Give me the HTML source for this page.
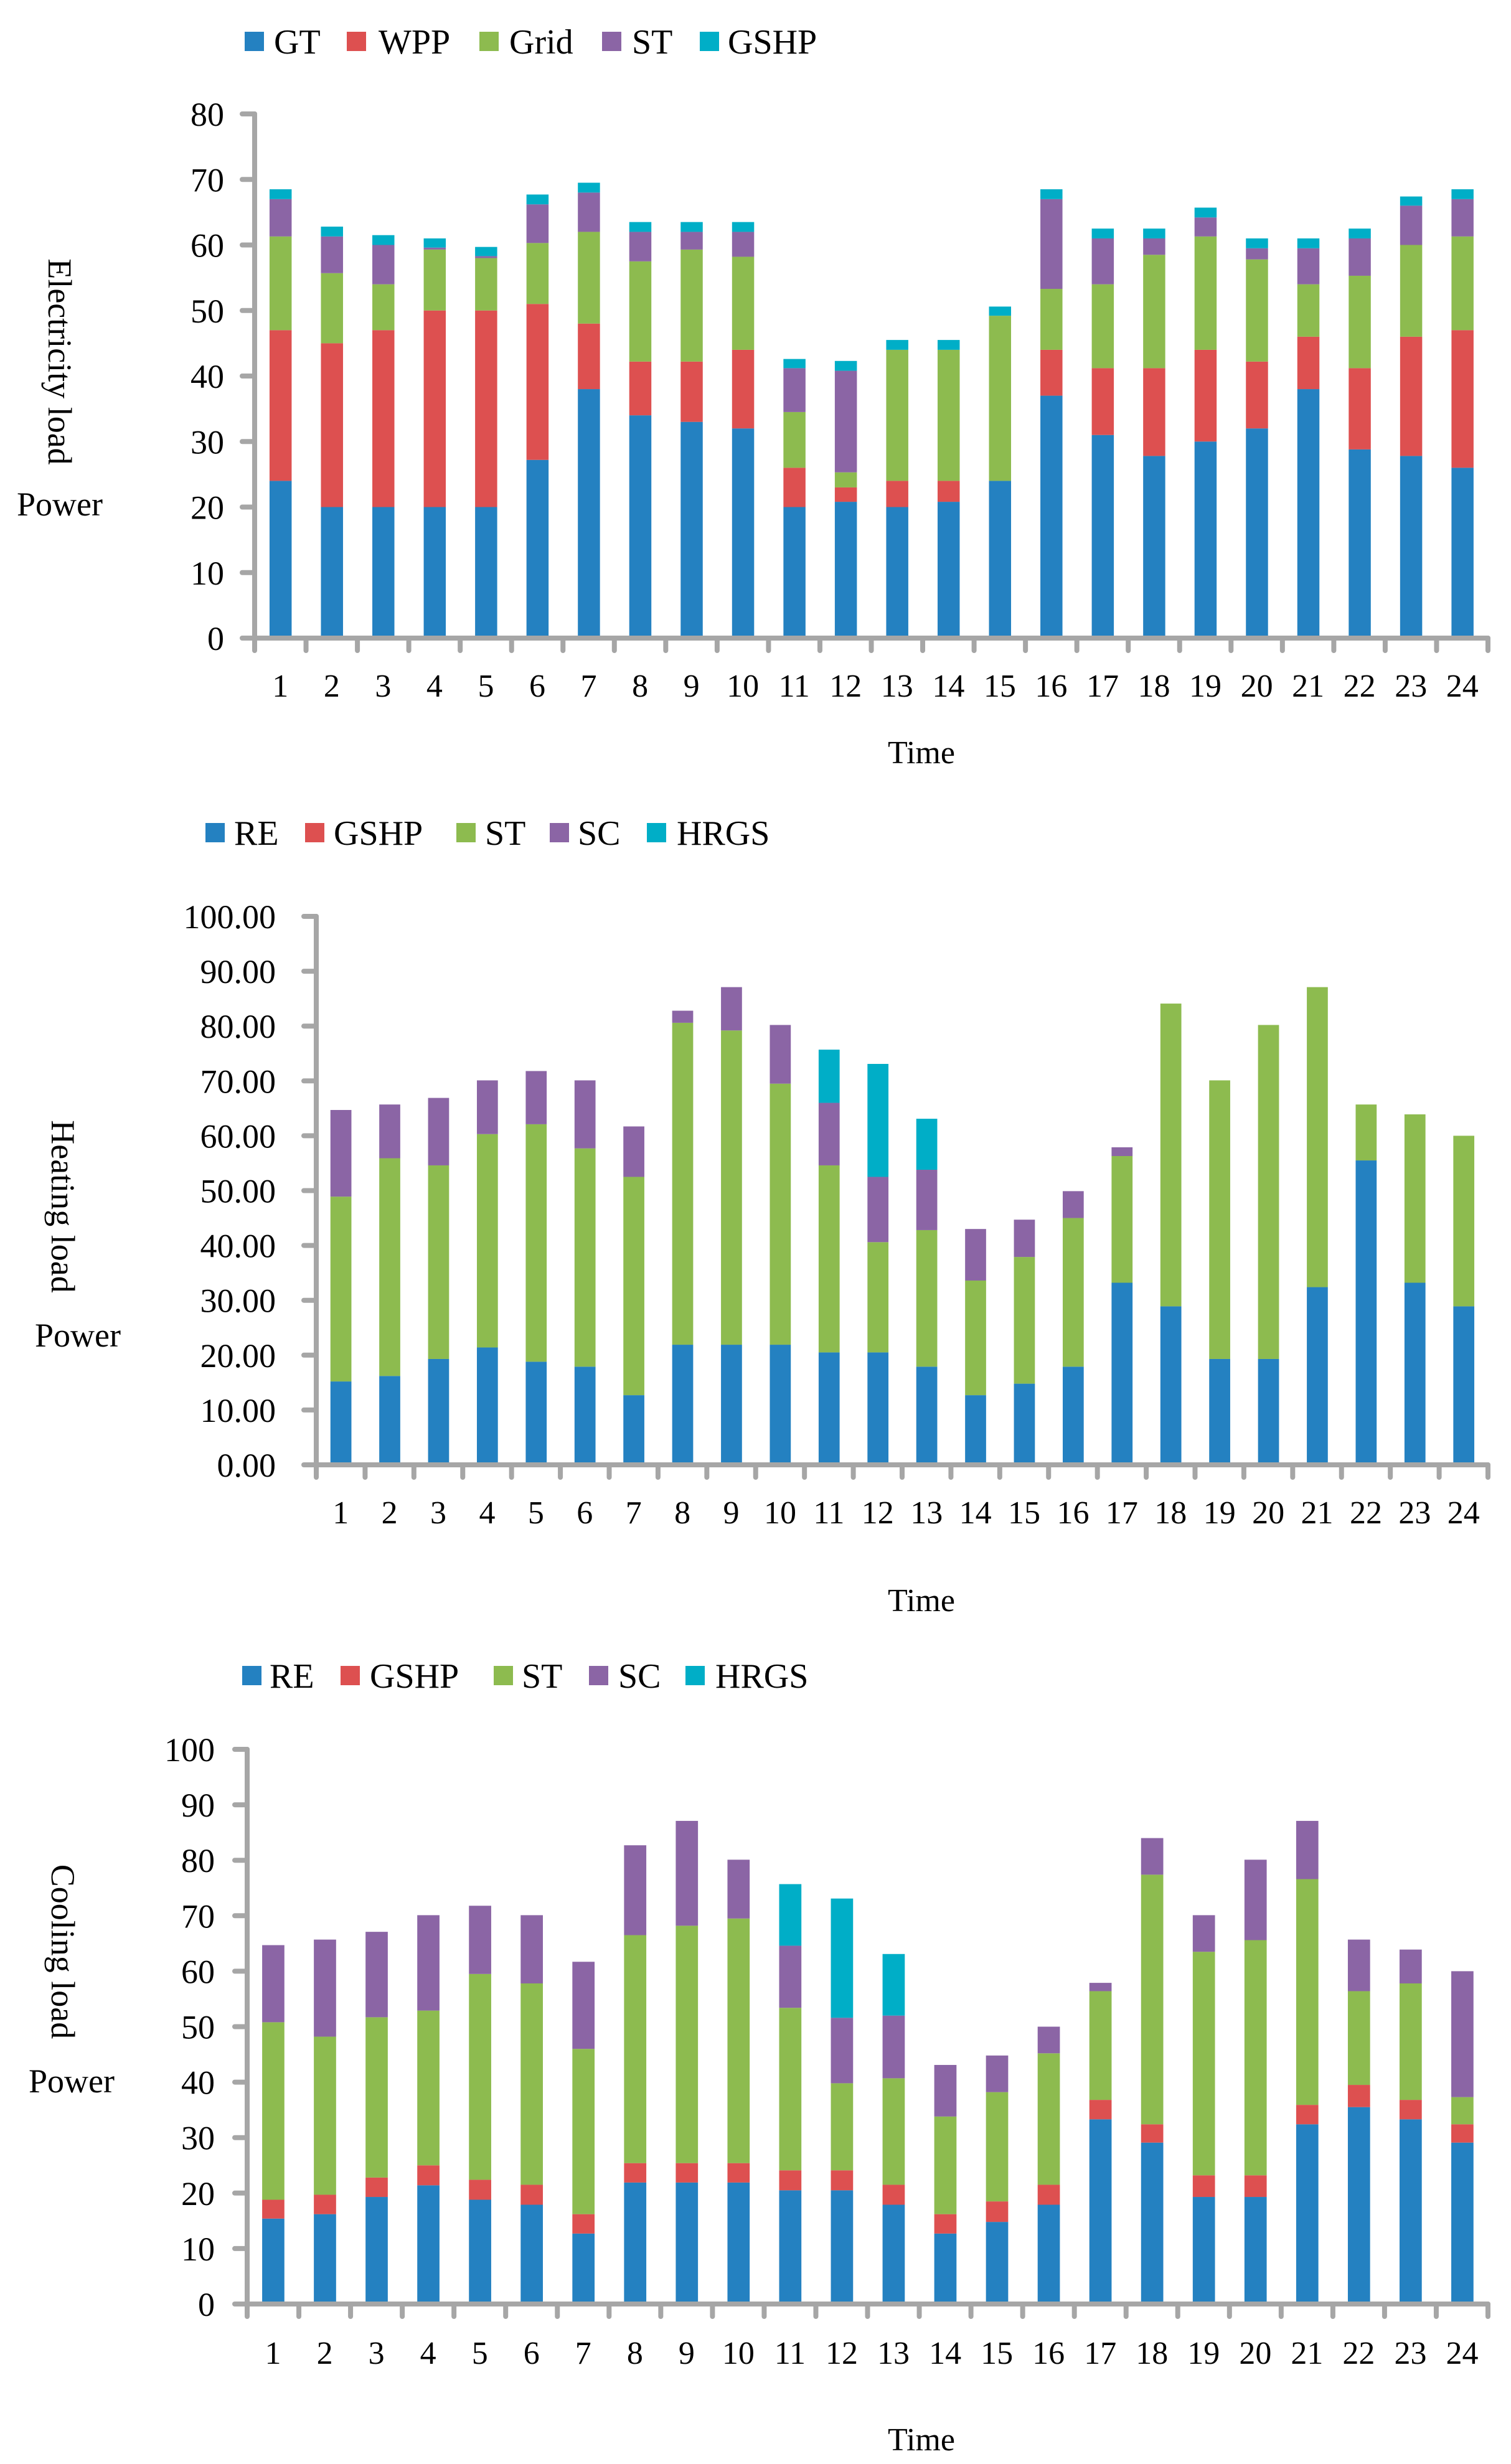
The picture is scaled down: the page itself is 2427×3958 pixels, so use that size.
<!DOCTYPE html>
<html><head><meta charset="utf-8"><style>
html,body{margin:0;padding:0;background:#fff;}
svg{display:block;font-family:"Liberation Serif",serif;}
</style></head><body>
<svg id="root" xmlns="http://www.w3.org/2000/svg" width="2427" height="3958" viewBox="0 0 2427 3958">
<rect x="0" y="0" width="2427" height="3958" fill="#fff"/>
</svg>
<script>
const hours = ["1","2","3","4","5","6","7","8","9","10","11","12","13","14","15","16","17","18","19","20","21","22","23","24"];
// Chart 1: electricity
const elecNames = ["GT","WPP","Grid","ST","GSHP"];
const elecGT   = [24,20,20,20,20,27.2,38,34,33,32,20,20.8,20,20.8,24,37,31,27.8,30,32,38,28.8,27.8,26];
const elecWPP  = [23,25,27,30,30,23.8,10,8.2,9.2,12,6,2.2,4,3.2,0,7,10.2,13.4,14,10.2,8,12.4,18.2,21];
const elecGrid = [14.3,10.7,7,9.3,8,9.3,14,15.3,17.1,14.2,8.5,2.3,20,20,25.2,9.3,12.8,17.3,17.3,15.6,8,14.1,14,14.3];
const elecST   = [5.7,5.6,6,0.3,0.3,5.9,6,4.5,2.7,3.8,6.7,15.5,0,0,0,13.7,7,2.5,2.9,1.7,5.5,5.7,6,5.7];
const elecGSHP = [1.5,1.5,1.5,1.4,1.4,1.5,1.5,1.5,1.5,1.5,1.4,1.5,1.5,1.5,1.4,1.5,1.5,1.5,1.5,1.5,1.5,1.5,1.4,1.5];
const elecTicks = ["0","10","20","30","40","50","60","70","80"];
// Chart 2: heating
const heatNames = ["RE","GSHP","ST","SC","HRGS"];
const heatRE   = [15.2,16.2,19.3,21.4,18.8,17.9,12.7,21.9,21.9,21.9,20.5,20.5,17.9,12.7,14.8,17.9,33.2,28.9,19.3,19.3,32.4,55.5,33.2,28.9];
const heatGSHP = [0,0,0,0,0,0,0,0,0,0,0,0,0,0,0,0,0,0,0,0,0,0,0,0];
const heatST   = [33.7,39.7,35.3,38.9,43.3,39.8,39.8,58.7,57.3,47.6,34.1,20.1,24.9,20.9,23.1,27.1,23.1,55.2,50.8,60.9,54.7,10.2,30.7,31.1];
const heatSC   = [15.8,9.8,12.3,9.8,9.7,12.4,9.2,2.2,7.9,10.7,11.4,11.9,11,9.4,6.8,4.9,1.6,0,0,0,0,0,0,0];
const heatHRGS = [0,0,0,0,0,0,0,0,0,0,9.7,20.6,9.3,0,0,0,0,0,0,0,0,0,0,0];
const heatTicks = ["0.00","10.00","20.00","30.00","40.00","50.00","60.00","70.00","80.00","90.00","100.00"];
// Chart 3: cooling
const coolNames = ["RE","GSHP","ST","SC","HRGS"];
const coolRE   = [15.4,16.2,19.3,21.4,18.8,17.9,12.7,21.9,21.9,21.9,20.5,20.5,17.9,12.7,14.8,17.9,33.3,29.1,19.3,19.3,32.4,35.5,33.3,29.1];
const coolGSHP = [3.4,3.5,3.5,3.6,3.6,3.6,3.5,3.5,3.5,3.5,3.6,3.6,3.6,3.5,3.7,3.6,3.5,3.3,3.9,3.9,3.5,4,3.5,3.3];
const coolST   = [32,28.5,28.9,27.9,37.1,36.3,29.8,41.1,42.8,44.1,29.3,15.7,19.2,17.6,19.7,23.7,19.6,45,40.3,42.4,40.7,16.9,21,4.9];
const coolSC   = [13.9,17.5,15.4,17.2,12.3,12.3,15.7,16.2,18.9,10.6,11.2,11.8,11.3,9.3,6.6,4.8,1.5,6.6,6.6,14.5,10.5,9.3,6.1,22.7];
const coolHRGS = [0,0,0,0,0,0,0,0,0,0,11.1,21.5,11.1,0,0,0,0,0,0,0,0,0,0,0];
const coolTicks = ["0","10","20","30","40","50","60","70","80","90","100"];

const colors = ["#2481C1","#DD5050","#8DBB4F","#8B65A5","#00AEC7"];
const NS = "http://www.w3.org/2000/svg";
const root = document.getElementById('root');
function mk(tag, attrs, parent){
  const e = document.createElementNS(NS, tag);
  for (const k in attrs) e.setAttribute(k, attrs[k]);
  (parent||root).appendChild(e);
  return e;
}
function chart(cfg){
  const g = mk('g', {});
  
  
  const n = hours.length;
  const band = (cfg.x1 - cfg.x0) / n;
  const xScale = i => cfg.x0 + band * i;
  const yScale = v => cfg.y0 - (v / cfg.max) * (cfg.y0 - cfg.yTop);
  for (let i = 0; i < n; i++){
    let acc = 0;
    for (let s = 0; s < cfg.series.length; s++){
      const v = cfg.series[s][i];
      if (v <= 0) continue;
      const yt = yScale(acc + v), yb = yScale(acc);
      const r = mk('rect', {x: xScale(i) + band*0.29, y: yt, width: band*0.43, height: yb - yt, fill: colors[s]}, g);
      
      
      acc += v;
    }
  }
  const ax = mk('g', {stroke:'#a6a6a6', 'stroke-width':8, 'stroke-linecap':'round', fill:'none'}, g);
  
  
  mk('line', {x1: cfg.x0, y1: cfg.yTop, x2: cfg.x0, y2: cfg.y0}, ax);
  mk('line', {x1: cfg.x0, y1: cfg.y0, x2: cfg.x1, y2: cfg.y0}, ax);
  const nt = cfg.ticks.length;
  for (let t = 0; t < nt; t++){
    const val = cfg.max * t / (nt - 1);
    const y = yScale(val);
    mk('line', {x1: cfg.x0 - 20, y1: y, x2: cfg.x0, y2: y}, ax);
    const tx = mk('text', {x: cfg.tickRight, y: y + 19, 'font-size': 54, 'text-anchor': 'end', fill: '#000'}, g);
    tx.textContent = cfg.ticks[t];
    
    
  }
  for (let i = 0; i <= n; i++){
    mk('line', {x1: xScale(i), y1: cfg.y0, x2: xScale(i), y2: cfg.y0 + 20}, ax);
  }
  for (let i = 0; i < n; i++){
    const tx = mk('text', {x: xScale(i) + band*0.5, y: cfg.xLabelY + 19, 'font-size': 52, 'text-anchor': 'middle', fill: '#000'}, g);
    tx.textContent = hours[i];
    
    
  }
  const tt = mk('text', {x: 1480, y: cfg.timeY + 18, 'font-size': 52, 'text-anchor': 'middle', fill: '#000'}, g);
  tt.textContent = 'Time';
  
  
  const yt = mk('text', {x: 0, y: 0, 'font-size': 54, 'text-anchor': 'middle', fill: '#000', transform: 'translate(' + (cfg.titleX - 18) + ',' + cfg.titleY + ') rotate(90)'}, g);
  yt.textContent = cfg.title;
  
  
  const pw = mk('text', {x: cfg.powerX, y: cfg.powerY + 18, 'font-size': 54, 'text-anchor': 'middle', fill: '#000'}, g);
  pw.textContent = 'Power';
  
  
  for (let s = 0; s < cfg.names.length; s++){
    const lg = mk('g', {}, g);
    
    
    mk('rect', {x: cfg.legSq[s], y: cfg.legY - 15, width: 31, height: 31, fill: colors[s]}, lg);
    const lt = mk('text', {x: cfg.legTx[s], y: cfg.legY + 20, 'font-size': 56, fill: '#000'}, lg);
    lt.textContent = cfg.names[s];
  }
}
chart({name:'electricity-load-chart', x0:409, x1:2390, y0:1025, yTop:183, max:80, ticks:elecTicks, tickRight:360,
  series:[elecGT,elecWPP,elecGrid,elecST,elecGSHP], names:elecNames, xLabelY:1100, timeY:1208,
  title:'Electricity load', titleX:96, titleY:581, powerX:96, powerY:810,
  legY:66, legSq:[393,557,770,967,1124], legTx:[440,608,818,1015,1169]});
chart({name:'heating-load-chart', x0:508, x1:2390, y0:2353, yTop:1472, max:100, ticks:heatTicks, tickRight:443,
  series:[heatRE,heatGSHP,heatST,heatSC,heatHRGS], names:heatNames, xLabelY:2428, timeY:2570,
  title:'Heating load', titleX:101, titleY:1938, powerX:125, powerY:2145,
  legY:1337, legSq:[330,490,733,883,1039], legTx:[376,536,779,928,1087]});
chart({name:'cooling-load-chart', x0:397, x1:2390, y0:3701, yTop:2810, max:100, ticks:coolTicks, tickRight:345,
  series:[coolRE,coolGSHP,coolST,coolSC,coolHRGS], names:coolNames, xLabelY:3778, timeY:3918,
  title:'Cooling load', titleX:101, titleY:3135, powerX:115, powerY:3343,
  legY:2691, legSq:[389,547,793,946,1101], legTx:[433,594,838,993,1149]});
</script>
</body></html>
